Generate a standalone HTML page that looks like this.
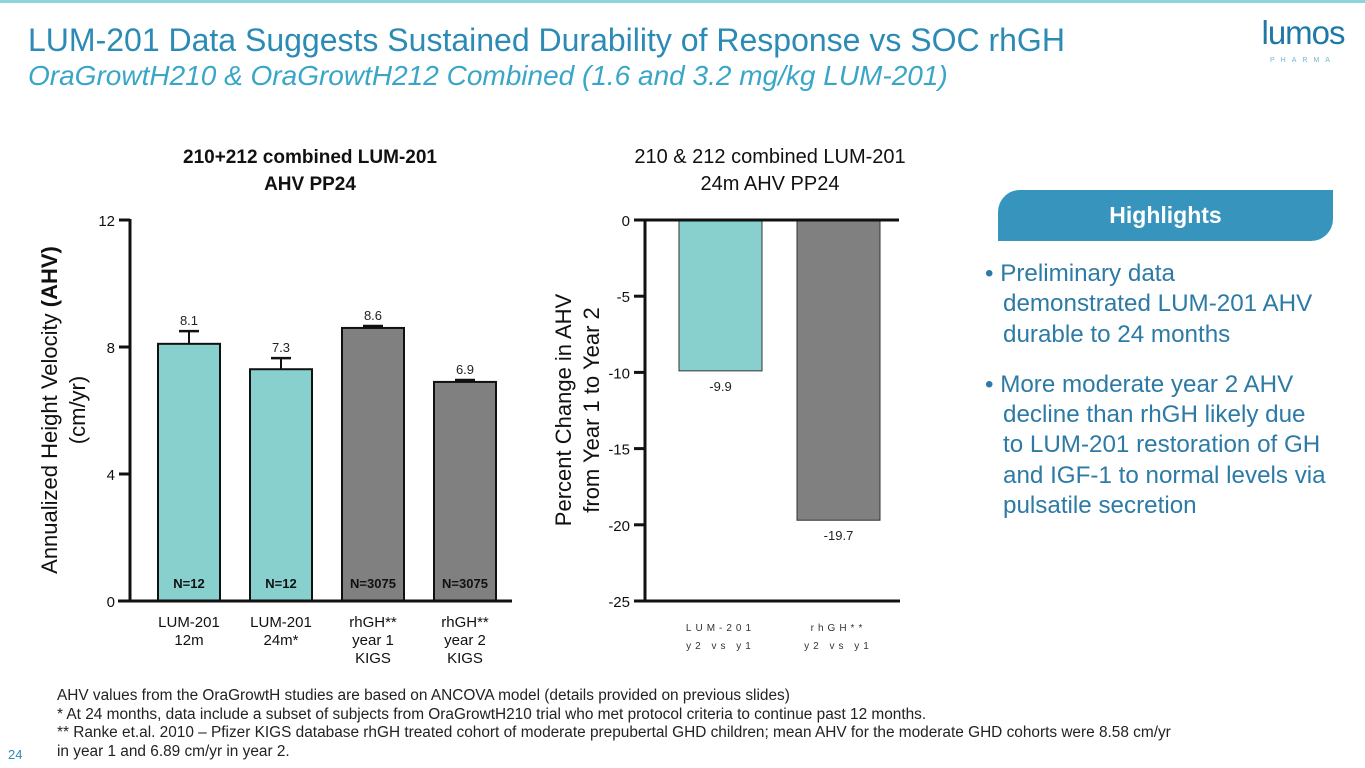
<!DOCTYPE html>
<html><head><meta charset="utf-8"><style>
body{margin:0;width:1365px;height:768px;overflow:hidden;background:#fff;font-family:"Liberation Sans",sans-serif;position:relative}
.a{position:absolute}
</style></head><body>
<div class="a" style="left:0;top:0;width:1365px;height:3px;background:#8fd3df"></div>
<div class="a" style="left:28px;top:22px;font-size:32px;color:#2c8bb5;white-space:nowrap">LUM-201 Data Suggests Sustained Durability of Response vs SOC rhGH</div>
<div class="a" style="left:28px;top:60px;font-size:28px;font-style:italic;color:#3aa6c7;white-space:nowrap">OraGrowtH210 &amp; OraGrowtH212 Combined (1.6 and 3.2 mg/kg LUM-201)</div>
<div class="a" style="left:1250px;top:16px;width:106px;text-align:center;color:#1f78a8">
<div style="font-size:33px;line-height:33px;letter-spacing:-1px">lumos</div>
<div style="font-size:7px;letter-spacing:6px;color:#6cb8d4;margin-top:8px">PHARMA</div></div>

<svg class="a" style="left:0;top:0" width="1365" height="768">
<g id="c1"></g>
<g id="c2"></g>
</svg>

<div class="a" style="left:998px;top:190px;width:335px;height:51px;background:#3795bd;border-radius:22px 0 22px 0;color:#fff;font-weight:bold;font-size:23px;line-height:51px;text-align:center">Highlights</div>
<div class="a" style="left:985px;top:259px;width:380px;font-size:24.2px;line-height:30.3px;color:#2c7aa5;white-space:nowrap">
<div style="padding-left:18px;text-indent:-18px">• Preliminary data<br>demonstrated LUM-201 AHV<br>durable to 24 months</div>
<div style="padding-left:18px;text-indent:-18px;margin-top:20px">• More moderate year 2 AHV<br>decline than rhGH likely due<br>to LUM-201 restoration of GH<br>and IGF-1 to normal levels via<br>pulsatile secretion</div>
</div>
<div class="a" style="left:57px;top:687px;font-size:15.4px;line-height:18.5px;color:#222;white-space:nowrap">AHV values from the OraGrowtH studies are based on ANCOVA model (details provided on previous slides)<br>* At 24 months, data include a subset of subjects from OraGrowtH210 trial who met protocol criteria to continue past 12 months.<br>** Ranke et.al. 2010 – Pfizer KIGS database rhGH treated cohort of moderate prepubertal GHD children; mean AHV for the moderate GHD cohorts were 8.58 cm/yr<br>in year 1 and 6.89 cm/yr in year 2.</div>
<div class="a" style="left:8px;top:747px;font-size:13px;color:#2c8bb5">24</div>

<script>
const cats1=["LUM-201\n12m","LUM-201\n24m*","rhGH**\nyear 1\nKIGS","rhGH**\nyear 2\nKIGS"];
const vals1=[8.1,7.3,8.6,6.9];
const errs1=[0.4,0.35,0.06,0.06];
const ns1=["N=12","N=12","N=3075","N=3075"];
const ticks1=[0,4,8,12];
const cats2=["LUM-201\ny2 vs y1","rhGH**\ny2 vs y1"];
const vals2=[-9.9,-19.7];
const ticks2=[0,-5,-10,-15,-20,-25];
const NS="http://www.w3.org/2000/svg";
function mk(p,t,a,txt){const e=document.createElementNS(NS,t);for(const k in a)e.setAttribute(k,a[k]);if(txt!==undefined)e.textContent=txt;p.appendChild(e);return e;}
const colors1=["#88d0ce","#88d0ce","#808080","#808080"];
const g1=document.getElementById('c1');
const y1=v=>601-v*(381/12);
const x1=i=>158+i*92;
mk(g1,'text',{x:310,y:163,'text-anchor':'middle','font-size':19,'font-weight':'bold',fill:'#111'},'210+212 combined LUM-201');
mk(g1,'text',{x:310,y:190,'text-anchor':'middle','font-size':19,'font-weight':'bold',fill:'#111'},'AHV PP24');
const yt=mk(g1,'text',{transform:'translate(57,410) rotate(-90)','text-anchor':'middle','font-size':22,fill:'#111'});
yt.textContent='Annualized Height Velocity ';
mk(yt,'tspan',{'font-weight':'bold'},'(AHV)');
mk(g1,'text',{transform:'translate(85,410) rotate(-90)','text-anchor':'middle','font-size':22,fill:'#111'},'(cm/yr)');
vals1.forEach((v,i)=>{
 const x=x1(i),w=62;
 const r=mk(g1,'rect',{x:x,y:y1(v),width:w,height:601-y1(v),fill:colors1[i],stroke:'#111','stroke-width':2});
 
 
 mk(g1,'line',{x1:x+w/2,x2:x+w/2,y1:y1(v),y2:y1(v+errs1[i]),stroke:'#111','stroke-width':2});
 mk(g1,'line',{x1:x+w/2-10,x2:x+w/2+10,y1:y1(v+errs1[i]),y2:y1(v+errs1[i]),stroke:'#111','stroke-width':2.5});
 mk(g1,'text',{x:x+w/2,y:y1(v+errs1[i])-6,'text-anchor':'middle','font-size':13,fill:'#222'},v.toFixed(1));
 mk(g1,'text',{x:x+w/2,y:588,'text-anchor':'middle','font-size':13,'font-weight':'bold',fill:'#111'},ns1[i]);
 cats1[i].split('\n').forEach((l,j)=>mk(g1,'text',{x:x+w/2,y:627+j*18,'text-anchor':'middle','font-size':15,fill:'#111'},l));
});
mk(g1,'line',{x1:130,x2:130,y1:219,y2:602,stroke:'#111','stroke-width':3});
mk(g1,'line',{x1:118,x2:512,y1:601,y2:601,stroke:'#111','stroke-width':3});
ticks1.forEach(t=>{mk(g1,'line',{x1:119,x2:130,y1:y1(t),y2:y1(t),stroke:'#111','stroke-width':3});
 mk(g1,'text',{x:115,y:y1(t)+6,'text-anchor':'end','font-size':15,fill:'#111'},t);});
const g2=document.getElementById('c2');
const y2=v=>220-v*(381/25);
const x2=i=>679+i*118;
mk(g2,'text',{x:770,y:163,'text-anchor':'middle','font-size':20,fill:'#111'},'210 & 212 combined LUM-201');
mk(g2,'text',{x:770,y:190,'text-anchor':'middle','font-size':20,fill:'#111'},'24m AHV PP24');
mk(g2,'text',{transform:'translate(571,410) rotate(-90)','text-anchor':'middle','font-size':22,fill:'#111'},'Percent Change in AHV');
mk(g2,'text',{transform:'translate(599,410) rotate(-90)','text-anchor':'middle','font-size':22,fill:'#111'},'from Year 1 to Year 2');
const colors2=["#88d0ce","#808080"];
vals2.forEach((v,i)=>{
 const x=x2(i),w=83;
 const r=mk(g2,'rect',{x:x,y:220,width:w,height:y2(v)-220,fill:colors2[i],stroke:'#333','stroke-width':1});
 
 
 mk(g2,'text',{x:x+w/2,y:y2(v)+20,'text-anchor':'middle','font-size':13,fill:'#222'},v.toFixed(1));
 cats2[i].split('\n').forEach((l,j)=>mk(g2,'text',{x:x+w/2,y:631+j*18,'text-anchor':'middle','font-size':10,fill:'#333','letter-spacing':'4'},l));
});
mk(g2,'line',{x1:645,x2:645,y1:219,y2:602,stroke:'#111','stroke-width':3});
mk(g2,'line',{x1:634,x2:899,y1:220,y2:220,stroke:'#111','stroke-width':3});
mk(g2,'line',{x1:634,x2:900,y1:601,y2:601,stroke:'#111','stroke-width':3});
ticks2.forEach(t=>{mk(g2,'line',{x1:634,x2:645,y1:y2(t),y2:y2(t),stroke:'#111','stroke-width':3});
 mk(g2,'text',{x:630,y:y2(t)+6,'text-anchor':'end','font-size':15,fill:'#111'},t);});
</script>
</body></html>
